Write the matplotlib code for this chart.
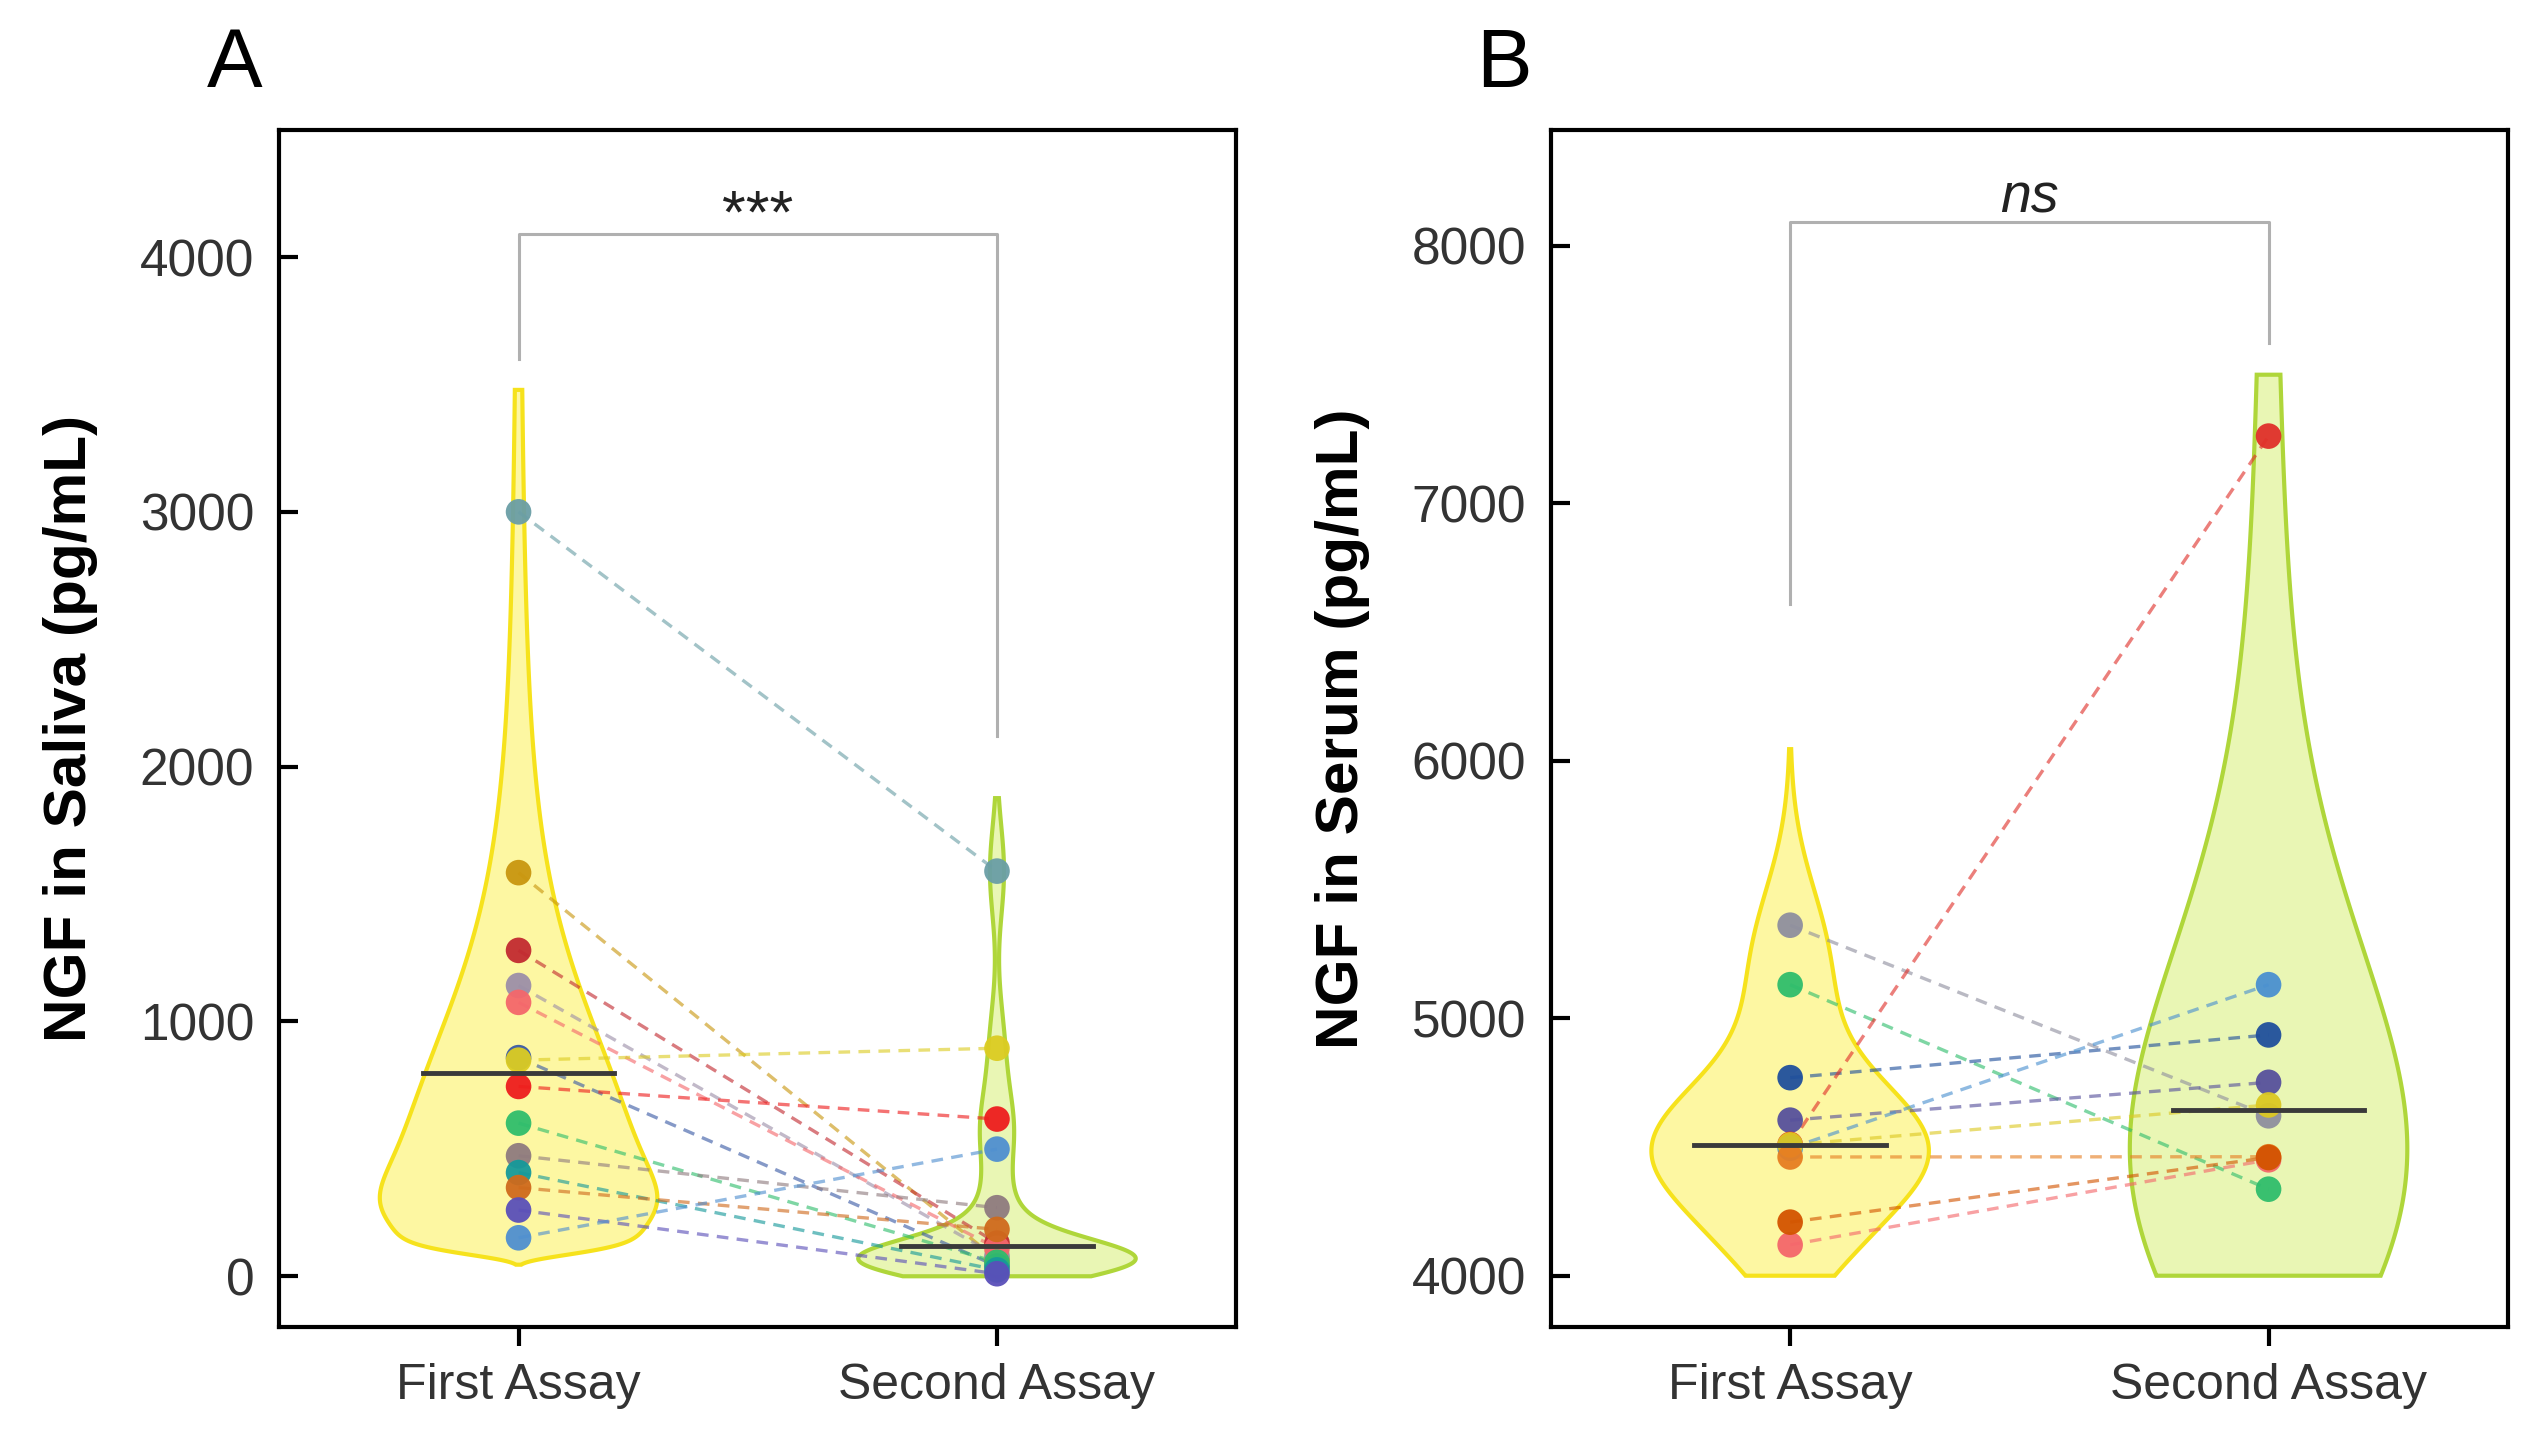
import numpy as np
import matplotlib
matplotlib.use('Agg')
import matplotlib.pyplot as plt

plt.rcParams['font.family'] = ['Liberation Sans', 'DejaVu Sans']

groups = ['First Assay', 'Second Assay']

# panel A - saliva (one entry per subject)
saliva_colors = ['#6a9ea6', '#c9960f', '#c22a30', '#9c8fa8', '#f4676b', '#3a5aa5', '#dccc22',
                 '#ee1d1d', '#2fbd6c', '#8f7b7f', '#16999a', '#cf6a1c', '#5a4fb9', '#4f8fd0']
saliva_first = [3000, 1584, 1279, 1141, 1075, 858, 848, 745, 601, 473, 407, 348, 260, 151]
saliva_second = [1590, 66, 130, 80, 110, 40, 895, 617, 55, 269, 25, 184, 10, 499]

# panel B - serum
serum_colors = ['#8f8f9e', '#2fbd6c', '#1f4f9c', '#56509c', '#e0302a', '#4a90d0', '#dcc822',
                '#e67e22', '#f4676b', '#d35400']
serum_first = [5361, 5130, 4769, 4604, 4510, 4495, 4508, 4461, 4120, 4208]
serum_second = [4621, 4336, 4935, 4751, 7260, 5130, 4663, 4462, 4450, 4459]

face_cols = ['#fdf7a2', '#e9f6b4']
edge_cols = ['#f6e21c', '#afd63a']


def kde_log(vals, h, cut_top, floor):
    # gaussian kde on log scale, mapped back to the linear axis
    u = np.log(np.asarray(vals, float))
    lo = u.min() - 3 * h
    if floor > 0:
        lo = max(lo, np.log(floor))
    grid = np.linspace(lo, u.max() + cut_top * h, 600)
    y = np.exp(grid)
    d = np.exp(-0.5 * ((grid[:, None] - u[None, :]) / h) ** 2).sum(axis=1) / y
    return y, d


def kde_adaptive(vals, bw0, cut_top, floor):
    # variable-bandwidth gaussian kde (Abramson)
    v = np.asarray(vals, float)
    pilot = np.exp(-0.5 * ((v[:, None] - v[None, :]) / bw0) ** 2).sum(axis=1)
    bws = bw0 * (pilot / np.exp(np.log(pilot).mean())) ** -0.5
    lo = max(floor, v.min() - 3 * bws[v.argmin()])
    y = np.linspace(lo, v.max() + cut_top * bws[v.argmax()], 800)
    d = (np.exp(-0.5 * ((y[:, None] - v[None, :]) / bws[None, :]) ** 2) / bws[None, :]).sum(axis=1)
    return y, d


def draw_violin(ax, pos, vals, kind, h, cut_top, floor, face, edge):
    if kind == 'log':
        y, d = kde_log(vals, h, cut_top, floor)
    else:
        y, d = kde_adaptive(vals, h, cut_top, floor)
    w = d / d.max() * 0.29
    xs = np.concatenate([pos - w, (pos + w)[::-1]])
    ys = np.concatenate([y, y[::-1]])
    ax.fill(xs, ys, facecolor=face, edgecolor=edge, lw=3, zorder=1)


def panel(ax, first, second, colors, kinds, hs, cuts, floor, ylim, yticks, ylabel,
          bracket, sig, sig_style, sig_size, sig_y):
    data = [first, second]
    for i in range(2):
        draw_violin(ax, i, data[i], kinds[i], hs[i], cuts[i], floor, face_cols[i], edge_cols[i])
    for f, s, c in zip(first, second, colors):
        ax.plot([0, 1], [f, s], color=c, lw=2.4, ls=(0, (3.5, 2.5)), alpha=0.62, zorder=2)
    for i in range(2):
        ax.scatter([i] * len(data[i]), data[i], s=340, c=colors, edgecolors='none',
                   alpha=0.95, zorder=3)
        med = np.median(data[i])
        ax.plot([i - 0.2, i + 0.2], [med, med], color='#3a3a3a', lw=3.5, zorder=4)

    # significance bracket
    top, left_end, right_end = bracket
    ax.plot([0, 0, 1, 1], [left_end, top, top, right_end], color='#b0b0b0', lw=2.2, zorder=1)
    ax.text(0.5, sig_y, sig, ha='center', va='baseline',
            fontsize=sig_size, style=sig_style, color='#222222')

    ax.set_xlim(-0.5, 1.5)
    ax.set_ylim(*ylim)
    ax.set_xticks([0, 1])
    ax.set_xticklabels(groups)
    ax.set_yticks(yticks)
    ax.set_ylabel(ylabel, fontsize=43.5, fontweight='bold', labelpad=30)
    ax.tick_params(axis='y', direction='in', labelsize=37, length=14, width=3,
                   labelcolor='#333333', pad=18)
    ax.tick_params(axis='x', direction='out', labelsize=36, length=14, width=3,
                   labelcolor='#333333', pad=12)
    for sp in ax.spines.values():
        sp.set_linewidth(3)


fig = plt.figure(figsize=(25.28, 14.45), dpi=100)
ax_a = fig.add_axes([0.1105, 0.0815, 0.3785, 0.8288])
ax_b = fig.add_axes([0.6135, 0.0815, 0.3785, 0.8288])

panel(ax_a, saliva_first, saliva_second, saliva_colors, ['log', 'adaptive'], [0.4, 90],
      [0.37, 1.6], 0, (-200, 4500), [0, 1000, 2000, 3000, 4000], 'NGF in Saliva (pg/mL)',
      (4090, 3600, 2120), '***', 'normal', 44, 4095)
panel(ax_b, serum_first, serum_second, serum_colors, ['log', 'log'], [0.05, 0.17],
      [2.4, 0.19], 4000, (3800, 8450), [4000, 5000, 6000, 7000, 8000], 'NGF in Serum (pg/mL)',
      (8090, 6610, 7620), 'ns', 'italic', 40, 8130)

fig.text(0.093, 0.955, 'A', fontsize=60, ha='center', va='center')
fig.text(0.595, 0.955, 'B', fontsize=60, ha='center', va='center')

fig.savefig('out.png', dpi=100)
